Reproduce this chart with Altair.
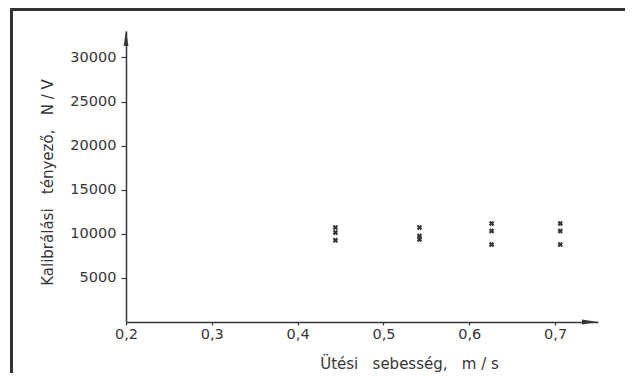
import altair as alt
import pandas as pd

# Data
speed = [0.444, 0.444, 0.444,
         0.542, 0.542, 0.542,
         0.626, 0.626, 0.626,
         0.706, 0.706, 0.706]
factor = [10710, 10140, 9270,
          10710, 9760, 9350,
          11165, 10325, 8780,
          11165, 10325, 8780]
x_ticks = [0.2, 0.3, 0.4, 0.5, 0.6, 0.7]
y_ticks = [5000, 10000, 15000, 20000, 25000, 30000]
S = "\u00a0"
x_title = "Ütési" + S * 3 + "sebesség," + S * 3 + "m" + S + "/" + S + "s"
y_title = "Kalibrálási" + S * 3 + "tényező," + S * 3 + "N" + S + "/" + S + "V"

X_DOMAIN = [0.2, 0.75]
Y_DOMAIN = [0, 33000]
INK = "#363636"
FONT = "DejaVu Sans"

df = pd.DataFrame({"speed": speed, "factor": factor})

xscale = alt.Scale(domain=X_DOMAIN, nice=False, zero=False)
yscale = alt.Scale(domain=Y_DOMAIN, nice=False, zero=False)

x_axis = alt.Axis(
    values=x_ticks, title=x_title, grid=False, labelFlush=False,
    labelExpr="replace(format(datum.value, '.1f'), '.', ',')",
    tickSize=3, labelPadding=2, domainColor=INK, tickColor=INK,
    domainWidth=1.5, tickWidth=1.2, labelColor=INK, titleColor=INK,
    labelFont=FONT, titleFont=FONT, labelFontSize=14.5, titleFontSize=15,
    titleFontWeight="normal", titleX=283, titleY=41, titleBaseline="middle",
    titleAlign="center",
)
y_axis = alt.Axis(
    values=y_ticks, title=y_title, grid=False, format="d", labelFlush=False,
    tickSize=5, labelPadding=5, domainColor=INK, tickColor=INK,
    domainWidth=1.5, tickWidth=1.2, labelColor=INK, titleColor=INK,
    labelFont=FONT, titleFont=FONT, labelFontSize=14.5, titleFontSize=15,
    titleFontWeight="normal", titleX=-79, titleY=151, titleBaseline="middle",
    titleAlign="center", titleAngle=-90,
)

points = alt.Chart(df).mark_point(
    shape="cross", angle=45, filled=True, size=30, color=INK, opacity=1
).encode(
    x=alt.X("speed:Q", scale=xscale, axis=x_axis),
    y=alt.Y("factor:Q", scale=yscale, axis=y_axis),
)

y_arrow = alt.Chart(pd.DataFrame({"speed": [X_DOMAIN[0]], "factor": [Y_DOMAIN[1]]})).mark_point(
    shape="M0,-1L0.3,1L-0.3,1Z", size=256, filled=True, color=INK, opacity=1, yOffset=7
).encode(x=alt.X("speed:Q", scale=xscale), y=alt.Y("factor:Q", scale=yscale))

x_arrow = alt.Chart(pd.DataFrame({"speed": [X_DOMAIN[1]], "factor": [Y_DOMAIN[0]]})).mark_point(
    shape="M1,0L-1,-0.3L-1,0.3Z", size=256, filled=True, color=INK, opacity=1, xOffset=-8
).encode(x=alt.X("speed:Q", scale=xscale), y=alt.Y("factor:Q", scale=yscale))

one = alt.Data(values=[{"a": 1}])
frame_left = alt.Chart(one).mark_rule(color="#333333", strokeWidth=3).encode(
    x=alt.value(-114.5), y=alt.value(-23), y2=alt.value(342)
)
frame_top = alt.Chart(one).mark_rule(color="#333333", strokeWidth=3).encode(
    y=alt.value(-21.5), x=alt.value(-116), x2=alt.value(499)
)

chart = alt.layer(frame_left, frame_top, points, y_arrow, x_arrow).properties(
    width=472, height=291,
    autosize=alt.AutoSizeParams(type="none"),
    padding={"left": 118, "top": 23, "right": 27, "bottom": 51},
    background="#ffffff",
).configure_view(stroke=None)

chart.save("out.html", embed_options={"renderer": "svg", "actions": False})
